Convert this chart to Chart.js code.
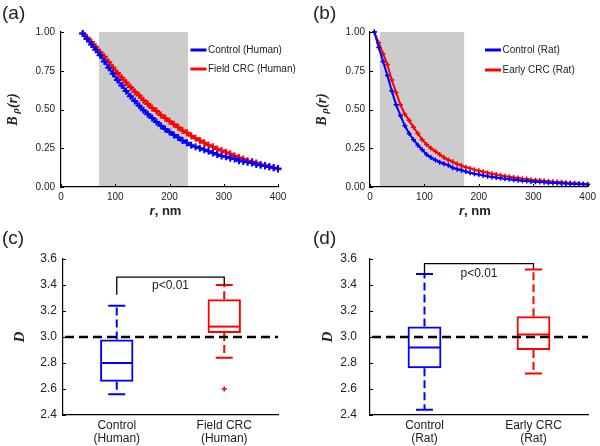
<!DOCTYPE html>
<html>
<head>
<meta charset="utf-8">
<script src="https://cdn.jsdelivr.net/npm/chart.js@4.4.1/dist/chart.umd.min.js"></script>
<style>
  html, body { margin: 0; padding: 0; background: #fff; }
  #wrap { position: relative; width: 600px; height: 446px; }
  canvas { position: absolute; }
</style>
</head>
<body>
<div id="wrap">
  <canvas id="ca" width="300" height="223" style="left:0;top:0"></canvas>
  <canvas id="cb" width="300" height="223" style="left:300px;top:0"></canvas>
  <canvas id="cc" width="300" height="223" style="left:0;top:223px"></canvas>
  <canvas id="cd" width="300" height="223" style="left:300px;top:223px"></canvas>
</div>
<script>
// ---- panel (a): human curves
const rHuman = [40,48,56,64,72,80,88,96,104,112,120,128,136,144,152,160,168,176,184,192,200,208,216,224,232,240,248,256,264,272,280,288,296,304,312,320,328,336,344,352,360,368,376,384,392,400];
const controlHuman = [0.99,0.955,0.92,0.885,0.85,0.81,0.77,0.73,0.69,0.655,0.62,0.585,0.555,0.525,0.495,0.47,0.445,0.42,0.395,0.375,0.355,0.335,0.32,0.30,0.285,0.27,0.26,0.25,0.24,0.23,0.22,0.21,0.20,0.195,0.185,0.18,0.17,0.165,0.16,0.155,0.145,0.14,0.135,0.13,0.125,0.12];
const fieldHuman = [0.99,0.965,0.935,0.905,0.87,0.84,0.805,0.77,0.735,0.705,0.675,0.645,0.615,0.59,0.56,0.535,0.51,0.49,0.465,0.445,0.425,0.405,0.385,0.365,0.35,0.33,0.315,0.30,0.285,0.27,0.26,0.245,0.235,0.225,0.215,0.20,0.19,0.18,0.17,0.165,0.155,0.145,0.14,0.13,0.125,0.115];
const bandHuman = [70, 234];

// ---- panel (b): rat curves
const rRat = [8,16,24,32,40,48,56,64,72,80,88,96,104,112,120,128,136,144,152,160,168,176,184,192,200,208,216,224,232,240,248,256,264,272,280,288,296,304,312,320,328,336,344,352,360,368,376,384,392,400];
const controlRat = [1.00,0.90,0.81,0.72,0.62,0.53,0.46,0.395,0.345,0.305,0.27,0.24,0.21,0.19,0.175,0.16,0.15,0.14,0.125,0.115,0.108,0.10,0.092,0.086,0.08,0.075,0.07,0.065,0.061,0.057,0.054,0.05,0.047,0.044,0.041,0.039,0.036,0.034,0.032,0.030,0.028,0.026,0.025,0.023,0.022,0.021,0.019,0.018,0.017,0.016];
const earlyRat = [1.00,0.93,0.86,0.79,0.69,0.61,0.53,0.47,0.43,0.385,0.345,0.305,0.275,0.25,0.23,0.21,0.19,0.175,0.163,0.148,0.138,0.128,0.12,0.112,0.105,0.098,0.092,0.086,0.08,0.075,0.07,0.066,0.062,0.058,0.054,0.051,0.047,0.044,0.042,0.039,0.037,0.034,0.032,0.030,0.028,0.026,0.024,0.022,0.020,0.018];
const bandRat = [18, 173];

const curveXTicks = [0, 100, 200, 300, 400];
const curveYTicks = [0, 0.25, 0.5, 0.75, 1];

// ---- panel (c): human D
const humanCats = [['Control', '(Human)'], ['Field CRC', '(Human)']];
const humanLow = [2.56, 2.84];
const humanQ1 = [2.655, 3.03];
const humanMedian = [2.80, 3.08];
const humanQ3 = [2.98, 3.29];
const humanHigh = [3.24, 3.40];
const humanOutliers = [null, 2.60];
const humanBracket = [3.325, 3.46, 3.40];

// ---- panel (d): rat D
const ratCats = [['Control', '(Rat)'], ['Early CRC', '(Rat)']];
const ratLow = [2.44, 2.72];
const ratQ1 = [2.76, 2.90];
const ratMedian = [2.92, 3.02];
const ratQ3 = [3.08, 3.16];
const ratHigh = [3.485, 3.52];
const ratBracket = [3.487, 3.564, 3.525];

const refLevel = 3.0;
const BLUE = '#0000ff', RED = '#ff0000', TXT = '#222';

Chart.defaults.font.family = "'Liberation Sans', Arial, Helvetica, sans-serif";
Chart.defaults.color = TXT;

function drawYTitle(ctx, x, y, parts) {
  ctx.save();
  ctx.translate(x, y);
  ctx.rotate(-Math.PI / 2);
  let total = 0;
  parts.forEach(p => { ctx.font = p.font; p.w = ctx.measureText(p.t).width; total += p.w; });
  let cx = -total / 2;
  ctx.textBaseline = 'middle';
  ctx.textAlign = 'left';
  ctx.fillStyle = TXT;
  parts.forEach(p => { ctx.font = p.font; ctx.fillText(p.t, cx, p.dy || 0); cx += p.w; });
  ctx.restore();
}

function panelLabel(ctx, text, x, y) {
  ctx.save();
  ctx.font = "19px 'Liberation Sans', Arial, sans-serif";
  ctx.fillStyle = TXT;
  ctx.textBaseline = 'alphabetic';
  ctx.fillText(text, x, y);
  ctx.restore();
}

function inwardTicks(ctx, chart, doX) {
  const { chartArea: a, scales: { x, y } } = chart;
  ctx.save();
  ctx.strokeStyle = '#000';
  ctx.lineWidth = 1;
  y.ticks.forEach(t => {
    const py = Math.round(y.getPixelForValue(t.value)) + 0.5;
    ctx.beginPath(); ctx.moveTo(a.left, py); ctx.lineTo(a.left + 3, py); ctx.stroke();
  });
  if (doX) {
    x.ticks.forEach(t => {
      const px = Math.round(x.getPixelForValue(t.value)) + 0.5;
      ctx.beginPath(); ctx.moveTo(px, a.bottom); ctx.lineTo(px, a.bottom - 3); ctx.stroke();
    });
  }
  ctx.restore();
}

function curveChart(id, opt) {
  const series = opt.series.map(s => ({
    label: s.label,
    data: opt.r.map((r, i) => ({ x: r, y: s.values[i] })),
    borderColor: s.color,
    backgroundColor: s.color,
    borderWidth: 2,
    pointStyle: 'cross',
    pointRadius: opt.pointRadius,
    pointBorderWidth: opt.pointWidth,
    pointHoverRadius: opt.pointRadius,
    tension: 0,
    clip: false
  }));

  const extras = {
    id: 'extras',
    beforeDatasetsDraw(chart) {
      const { ctx, scales: { x, y } } = chart;
      const x0 = x.getPixelForValue(opt.band[0]);
      const x1 = x.getPixelForValue(opt.band[1]);
      const y0 = y.getPixelForValue(1), y1 = y.getPixelForValue(0);
      ctx.save();
      ctx.fillStyle = '#cccccc';
      ctx.fillRect(x0, y0, x1 - x0, y1 - y0 - 1);
      ctx.restore();
    },
    afterDraw(chart) {
      const { ctx, chartArea: a } = chart;
      inwardTicks(ctx, chart, true);
      // legend
      ctx.save();
      opt.series.forEach((s, i) => {
        const ly = opt.legend.y + i * opt.legend.gap;
        ctx.strokeStyle = s.color;
        ctx.lineWidth = 3;
        ctx.beginPath(); ctx.moveTo(opt.legend.x, ly); ctx.lineTo(opt.legend.x + 16, ly); ctx.stroke();
        ctx.fillStyle = TXT;
        ctx.font = "10px 'Liberation Sans', Arial, sans-serif";
        ctx.textBaseline = 'middle';
        ctx.fillText(s.label, opt.legend.x + 17.5, ly);
      });
      // x title "r, nm"
      ctx.font = "bold italic 13px 'Liberation Sans', Arial, sans-serif";
      const w1 = ctx.measureText('r').width;
      ctx.font = "bold 13px 'Liberation Sans', Arial, sans-serif";
      const w2 = ctx.measureText(', nm').width;
      let tx = (a.left + a.right) / 2 - 4 - (w1 + w2) / 2;
      ctx.textBaseline = 'middle';
      ctx.font = "bold italic 13px 'Liberation Sans', Arial, sans-serif";
      ctx.fillText('r', tx, 211);
      ctx.font = "bold 13px 'Liberation Sans', Arial, sans-serif";
      ctx.fillText(', nm', tx + w1, 211);
      ctx.restore();
      drawYTitle(ctx, opt.yTitleX, (a.top + a.bottom) / 2, [
        { t: 'B', font: "bold italic 14px 'Liberation Serif', serif" },
        { t: ' \u03c1', font: "bold italic 11px 'Liberation Serif', serif", dy: 3 },
        { t: '(r)', font: "bold italic 14px 'Liberation Serif', serif" }
      ]);
      panelLabel(ctx, opt.panel, opt.panelX, 19);
    }
  };

  return new Chart(document.getElementById(id), {
    type: 'line',
    data: { datasets: series },
    options: {
      responsive: false,
      animation: false,
      events: [],
      layout: { padding: { top: 32, right: opt.padRight, left: 0, bottom: 0 } },
      plugins: { legend: { display: false }, tooltip: { enabled: false } },
      scales: {
        x: {
          type: 'linear', min: 0, max: 400,
          afterBuildTicks: s => { s.ticks = curveXTicks.map(v => ({ value: v })); },
          afterFit: s => { s.height = 36; },
          grid: { display: false, drawTicks: false },
          border: { display: true, color: '#000', width: 1.2 },
          ticks: { font: { size: 10 }, padding: 4, color: TXT, maxRotation: 0 }
        },
        y: {
          min: 0, max: 1,
          afterBuildTicks: s => { s.ticks = curveYTicks.map(v => ({ value: v })); },
          afterFit: s => { s.width = opt.yWidth; },
          grid: { display: false, drawTicks: false },
          border: { display: true, color: '#000', width: 1.2 },
          ticks: { font: { size: 10 }, padding: opt.yPad, color: TXT, callback: v => v.toFixed(2) }
        }
      }
    },
    plugins: [extras]
  });
}

function boxChart(id, opt) {
  const extras = {
    id: 'boxExtras',
    afterDatasetsDraw(chart) {
      const { ctx, chartArea: a, scales: { y } } = chart;
      const meta = chart.getDatasetMeta(0);
      ctx.save();
      meta.data.forEach((bar, i) => {
        const color = opt.colors[i];
        const cx = bar.x, hw = bar.width / 2;
        ctx.strokeStyle = color;
        ctx.lineWidth = 2;
        // median
        ctx.setLineDash([]);
        const ym = y.getPixelForValue(opt.median[i]);
        ctx.beginPath(); ctx.moveTo(cx - hw + 1, ym); ctx.lineTo(cx + hw - 1, ym); ctx.stroke();
        // whiskers
        ctx.setLineDash([8, 4]);
        ctx.beginPath();
        ctx.moveTo(cx, y.getPixelForValue(opt.q3[i])); ctx.lineTo(cx, y.getPixelForValue(opt.high[i]));
        ctx.moveTo(cx, y.getPixelForValue(opt.q1[i])); ctx.lineTo(cx, y.getPixelForValue(opt.low[i]));
        ctx.stroke();
        // caps
        ctx.setLineDash([]);
        ctx.beginPath();
        [opt.high[i], opt.low[i]].forEach(v => {
          const py = y.getPixelForValue(v);
          ctx.moveTo(cx - 8.5, py); ctx.lineTo(cx + 8.5, py);
        });
        ctx.stroke();
      });
      // reference line
      ctx.strokeStyle = '#000';
      ctx.lineWidth = 2.5;
      ctx.setLineDash([9, 5]);
      const yr = y.getPixelForValue(refLevel);
      ctx.beginPath(); ctx.moveTo(a.left + 2, yr); ctx.lineTo(a.right, yr); ctx.stroke();
      // bracket
      ctx.setLineDash([]);
      ctx.lineWidth = 1.3;
      const b = opt.bracket;
      const xl = meta.data[0].x, xr = meta.data[1].x;
      const yt = y.getPixelForValue(b[1]);
      ctx.beginPath();
      ctx.moveTo(xl, y.getPixelForValue(b[0])); ctx.lineTo(xl, yt);
      ctx.lineTo(xr, yt); ctx.lineTo(xr, y.getPixelForValue(b[2]));
      ctx.stroke();
      ctx.fillStyle = TXT;
      ctx.font = "12px 'Liberation Sans', Arial, sans-serif";
      ctx.textAlign = 'center';
      ctx.textBaseline = 'middle';
      ctx.fillText('p<0.01', (xl + xr) / 2, yt + opt.pTextDy);
      ctx.restore();
    },
    afterDraw(chart) {
      const { ctx, chartArea: a } = chart;
      inwardTicks(ctx, chart, false);
      drawYTitle(ctx, opt.yTitleX, (a.top + a.bottom) / 2, [
        { t: 'D', font: "bold italic 15px 'Liberation Serif', serif" }
      ]);
      panelLabel(ctx, opt.panel, opt.panelX, 21);
    }
  };

  return new Chart(document.getElementById(id), {
    type: 'bar',
    data: {
      labels: opt.cats,
      datasets: [
        {
          data: opt.q1.map((v, i) => [v, opt.q3[i]]),
          backgroundColor: 'rgba(255,255,255,0)',
          borderColor: opt.colors,
          borderWidth: 2,
          borderSkipped: false,
          barPercentage: 0.31,
          categoryPercentage: 1
        },
        {
          type: 'line',
          data: opt.outliers,
          showLine: false,
          pointStyle: 'cross',
          pointRadius: 2.5,
          pointBorderWidth: 1.5,
          borderColor: RED,
          backgroundColor: RED
        }
      ]
    },
    options: {
      responsive: false,
      animation: false,
      events: [],
      layout: { padding: { top: 36, right: opt.padRight, left: 0, bottom: 0 } },
      plugins: { legend: { display: false }, tooltip: { enabled: false } },
      scales: {
        x: {
          afterFit: s => { s.height = 31; },
          grid: { display: false, drawTicks: false },
          border: { display: true, color: '#000', width: 1.2 },
          ticks: { font: { size: 12, lineHeight: 1.1 }, padding: 4, color: TXT, maxRotation: 0 }
        },
        y: {
          min: 2.4, max: 3.6,
          ticks: { stepSize: 0.2, font: { size: 12 }, padding: opt.yPad, color: TXT, callback: v => v.toFixed(1) },
          afterFit: s => { s.width = opt.yWidth; },
          grid: { display: false, drawTicks: false },
          border: { display: true, color: '#000', width: 1.2 }
        }
      }
    },
    plugins: [extras]
  });
}

curveChart('ca', {
  r: rHuman,
  series: [
    { label: 'Control (Human)', values: controlHuman, color: BLUE },
    { label: 'Field CRC (Human)', values: fieldHuman, color: RED }
  ],
  band: bandHuman, pointRadius: 3.5, pointWidth: 2,
  yWidth: 61, yPad: 6, padRight: 22,
  legend: { x: 190.5, y: 50, gap: 19 },
  yTitleX: 13, panel: '(a)', panelX: 2
});

curveChart('cb', {
  r: rRat,
  series: [
    { label: 'Control (Rat)', values: controlRat, color: BLUE },
    { label: 'Early CRC (Rat)', values: earlyRat, color: RED }
  ],
  band: bandRat, pointRadius: 2.5, pointWidth: 1.5,
  yWidth: 70, yPad: 5, padRight: 11,
  legend: { x: 185, y: 50, gap: 20 },
  yTitleX: 22, panel: '(b)', panelX: 13
});

boxChart('cc', {
  cats: humanCats, colors: [BLUE, RED],
  low: humanLow, q1: humanQ1, median: humanMedian, q3: humanQ3, high: humanHigh,
  outliers: humanOutliers, bracket: humanBracket, pTextDy: 8,
  yWidth: 63, yPad: 6, padRight: 22,
  yTitleX: 20, panel: '(c)', panelX: 2
});

boxChart('cd', {
  cats: ratCats, colors: [BLUE, RED],
  low: ratLow, q1: ratQ1, median: ratMedian, q3: ratQ3, high: ratHigh,
  outliers: [null, null], bracket: ratBracket, pTextDy: 10,
  yWidth: 70, yPad: 13, padRight: 12,
  yTitleX: 28, panel: '(d)', panelX: 13
});
</script>
</body>
</html>
